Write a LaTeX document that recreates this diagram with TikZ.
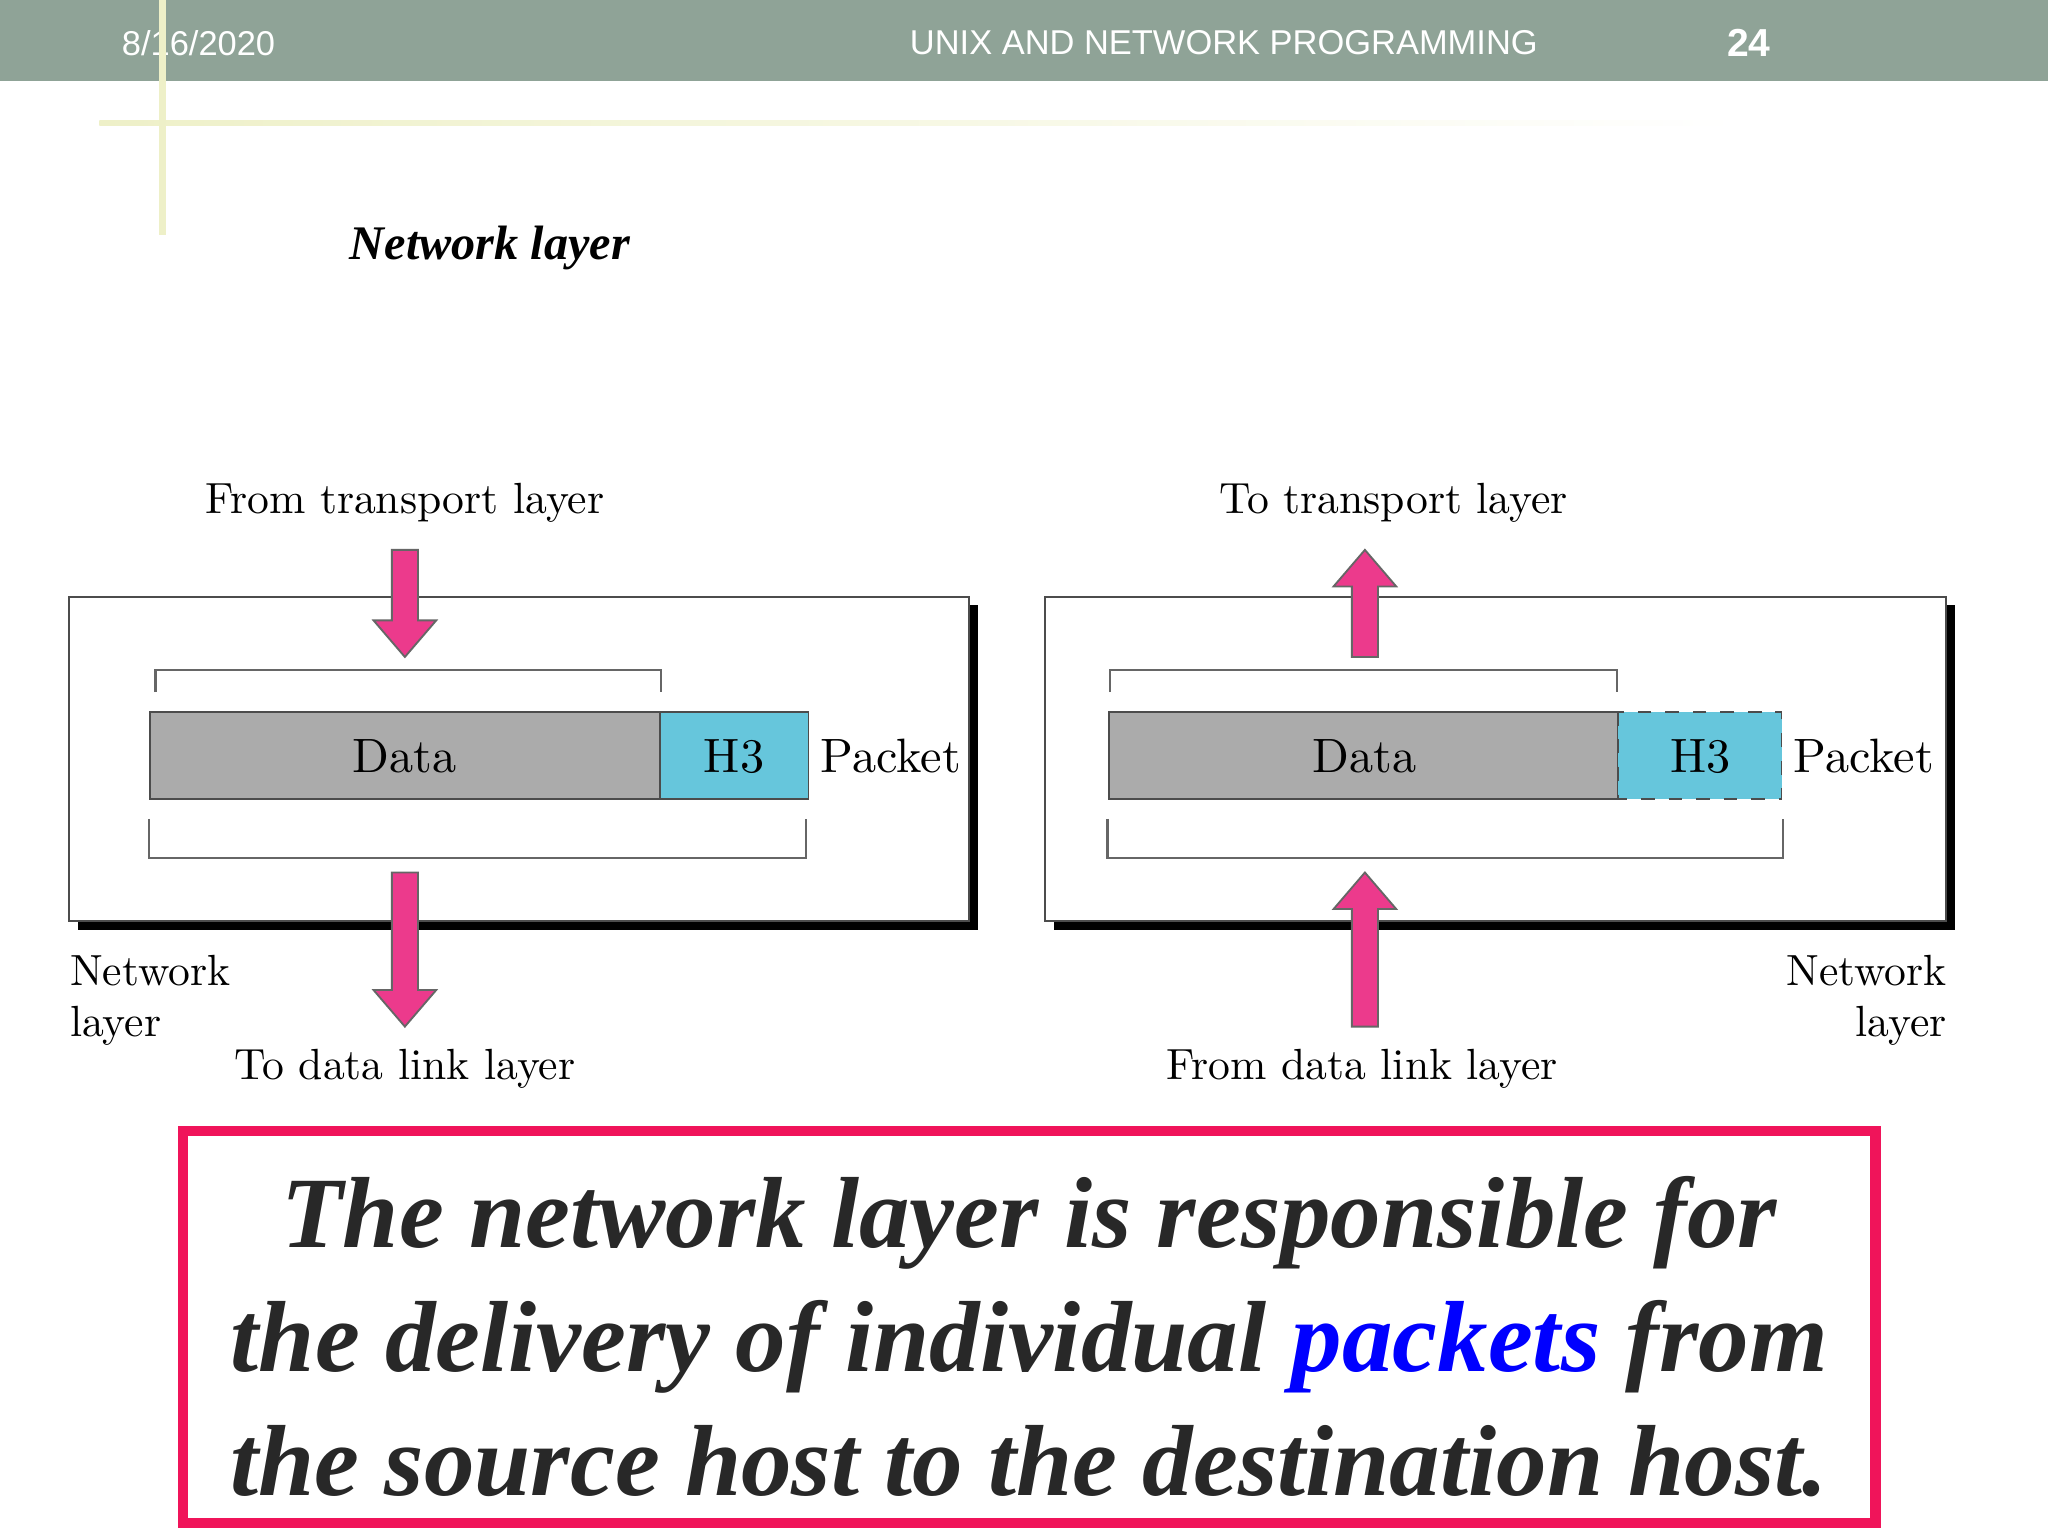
\documentclass[tikz,border=0pt]{standalone}
\usepackage{fontspec}
\newfontfamily\sans{Liberation Sans}
\newfontfamily\tms{Liberation Serif}
\definecolor{hbar}{RGB}{143,163,151}
\definecolor{pale}{RGB}{238,240,200}
\definecolor{hcyan}{RGB}{102,198,220}
\definecolor{fpink}{RGB}{236,58,140}
\definecolor{rbox}{RGB}{240,20,90}
\definecolor{dtext}{RGB}{40,40,40}
\begin{document}
\begin{tikzpicture}[x=0.01cm,y=-0.01cm,
  lbl/.style={font=\fontsize{9.5}{11}\selectfont,inner sep=0},
  data/.style={draw=black!70,fill=black!33,line width=0.4pt},
  brk/.style={draw=black!60,line width=0.5pt},
  fat/.style={fill=fpink,draw=black!60,line width=0.4pt},
  box/.style={draw=black!70,fill=white,line width=0.5pt}]
\useasboundingbox (0,0) rectangle (1568,1176);
\fill[white] (0,0) rectangle (1568,1176);
% header
\fill[hbar] (0,0) rectangle (1568,62);
\node[text=white,font=\sans\fontsize{7.5}{9}\selectfont] (date) at (152,33) {8/16/2020};
\node[text=white,font=\sans\fontsize{7.5}{9}\selectfont] (title) at (937,33) {UNIX AND NETWORK PROGRAMMING};
\node[text=white,font=\sans\bfseries\fontsize{8.5}{10}\selectfont] (pg) at (1339,33) {24};
\shade[left color=pale,right color=white] (76,92) rectangle (1330,96);
\fill[pale] (122,0) rectangle (127,180);
\node[font=\tms\bfseries\itshape\fontsize{10.5}{12}\selectfont] (nl) at (375,190) {Network layer};
% boxes
\foreach \x/\w in {53/689,800/690}{
  \fill[black] (\x+7,463) rectangle (\x+\w+7,712);
  \draw[box] (\x,457) rectangle (\x+\w,705);
}
% left
\draw[data] (115,545) rectangle (505,612);
\node[lbl,font=\fontsize{10.5}{12}\selectfont] (d1) at (310,579) {Data};
\draw[draw=black!70,fill=hcyan,line width=0.4pt] (505,545) rectangle (619,612);
\node[lbl,font=\fontsize{10.5}{12}\selectfont] (h1) at (562,579) {H3};
\node[lbl,font=\fontsize{10.5}{12}\selectfont] (p1) at (682,579) {Packet};
\draw[brk] (119,530) -- (119,513) -- (506,513) -- (506,530);
\draw[brk] (114,627) -- (114,657) -- (617,657) -- (617,627);
% right
\draw[data] (849,545) rectangle (1239,612);
\node[lbl,font=\fontsize{10.5}{12}\selectfont] (d2) at (1045,579) {Data};
\fill[hcyan] (1239,545) rectangle (1364,612);
\draw[black!70,dashed,line width=0.4pt] (1239,545) rectangle (1364,612);
\node[lbl,font=\fontsize{10.5}{12}\selectfont] (h2) at (1302,579) {H3};
\node[lbl,font=\fontsize{10.5}{12}\selectfont] (p2) at (1427,579) {Packet};
\draw[brk] (850,530) -- (850,513) -- (1238,513) -- (1238,530);
\draw[brk] (848,627) -- (848,657) -- (1365,657) -- (1365,627);
% fat arrows: tail y, head y
\foreach \x/\t/\h/\s in {310/421/503/1, 310/668/786/1, 1045/503/421/-1, 1045/786/668/-1}{
  \draw[fat] (\x-10,\t) -- (\x-10,\h-\s*28) -- (\x-24,\h-\s*28) -- (\x,\h) -- (\x+24,\h-\s*28) -- (\x+10,\h-\s*28) -- (\x+10,\t) -- cycle;
}
\node[lbl] (ft) at (310,385) {From transport layer};
\node[lbl] (tdl) at (310,818) {To data link layer};
\node[lbl,align=left,anchor=west] (nl1) at (53,766) {Network\\layer};
\node[lbl] (tt) at (1067,385) {To transport layer};
\node[lbl] (fdl) at (1043,818) {From data link layer};
\node[lbl,align=right,anchor=east] (nl2) at (1491,766) {Network\\layer};
% bottom box
\draw[draw=rbox,line width=2.3pt] (140,866) rectangle (1436,1166);
\node[font=\tms\bfseries\itshape\fontsize{22}{27}\selectfont,text=dtext,align=center] (txt) at (788,1023)
 {The network layer is responsible for\\the delivery of individual \textcolor{blue}{packets} from\\the source host to the destination host.};
\end{tikzpicture}
\end{document}
